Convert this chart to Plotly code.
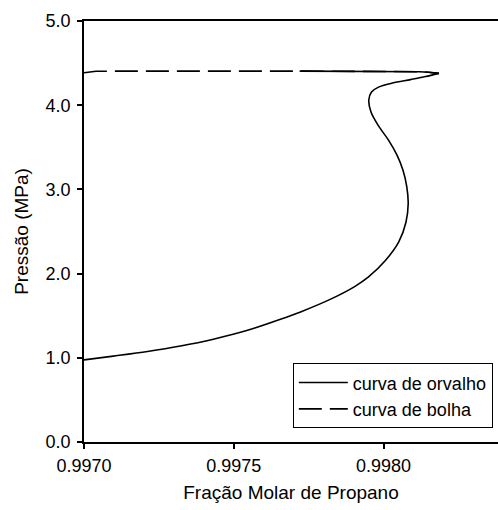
import plotly.graph_objects as go

# Dew curve (curva de orvalho)
dew_x = [0.99700, 0.997098, 0.997212, 0.997322, 0.997432, 0.997546, 0.997656, 0.997723,
         0.997829, 0.997905, 0.997950, 0.998007, 0.998051, 0.998075, 0.9980825, 0.9980778,
         0.9980651, 0.9980451, 0.9980167, 0.9979816, 0.9979583, 0.9979509, 0.9979599,
         0.9979833, 0.9980301, 0.9980902, 0.9981402, 0.9981846]
dew_y = [0.975, 1.020, 1.075, 1.140, 1.221, 1.326, 1.457, 1.545,
         1.706, 1.849, 1.960, 2.158, 2.376, 2.610, 2.832, 3.030,
         3.228, 3.407, 3.585, 3.763, 3.918, 4.061, 4.156,
         4.215, 4.263, 4.304, 4.340, 4.378]

# Bubble curve (curva de bolha)
bub_x = [0.99700, 0.99704, 0.99772, 0.99780, 0.99788, 0.99795, 0.99800, 0.99805,
         0.99809, 0.99812, 0.99815, 0.99817, 0.9981846]
bub_y = [4.385, 4.404, 4.405, 4.405, 4.405, 4.405, 4.405, 4.404,
         4.402, 4.398, 4.392, 4.386, 4.378]
dense_start = 2  # densely sampled part of the bubble curve renders solid

x_ticks = [0.9970, 0.9975, 0.9980]
x_ticklabels = ["0.9970", "0.9975", "0.9980"]
y_ticks = [0.0, 1.0, 2.0, 3.0, 4.0, 5.0]
y_ticklabels = ["0.0", "1.0", "2.0", "3.0", "4.0", "5.0"]

FONT = "Liberation Sans, Arial, sans-serif"

fig = go.Figure()
fig.add_trace(go.Scatter(
    x=dew_x, y=dew_y, mode="lines", name="curva de orvalho",
    line=dict(color="black", width=1.6, shape="spline", smoothing=0.9),
))
fig.add_trace(go.Scatter(
    x=bub_x, y=bub_y, mode="lines", name="curva de bolha",
    line=dict(color="black", width=1.6, dash="23px,8px"),
))
fig.add_trace(go.Scatter(
    x=bub_x[dense_start:], y=bub_y[dense_start:], mode="lines", showlegend=False,
    line=dict(color="black", width=1.6), hoverinfo="skip",
))

fig.update_layout(
    width=498, height=510,
    margin=dict(l=84, r=0, t=21, b=68),
    paper_bgcolor="white", plot_bgcolor="white",
    font=dict(family=FONT, size=18, color="black"),
    showlegend=True,
    legend=dict(
        x=0.9875, y=0.187, xanchor="right", yanchor="top",
        bgcolor="white", bordercolor="black", borderwidth=1,
        font=dict(family=FONT, size=18, color="black"),
        itemwidth=49, tracegroupgap=0,
    ),
)
fig.update_xaxes(
    range=[0.9970, 0.9983823], tickmode="array", tickvals=x_ticks, ticktext=x_ticklabels,
    showgrid=False, zeroline=False, showline=True, linecolor="black", linewidth=1.5,
    mirror=True, ticks="outside", ticklen=5, tickwidth=1.5, tickcolor="black",
    ticklabelstandoff=2,
    tickfont=dict(family=FONT, size=18, color="black"),
    title=dict(text="Fração Molar de Propano", font=dict(family=FONT, size=19, color="black"), standoff=10),
)
fig.update_yaxes(
    range=[0, 5], tickmode="array", tickvals=y_ticks, ticktext=y_ticklabels,
    showgrid=False, zeroline=False, showline=True, linecolor="black", linewidth=1.5,
    mirror=False, ticks="outside", ticklen=5, tickwidth=1.5, tickcolor="black",
    ticklabelstandoff=3,
    tickfont=dict(family=FONT, size=18, color="black"),
    title=dict(text="Pressão (MPa)", font=dict(family=FONT, size=19, color="black"), standoff=12),
)

fig.write_html("out.html")
